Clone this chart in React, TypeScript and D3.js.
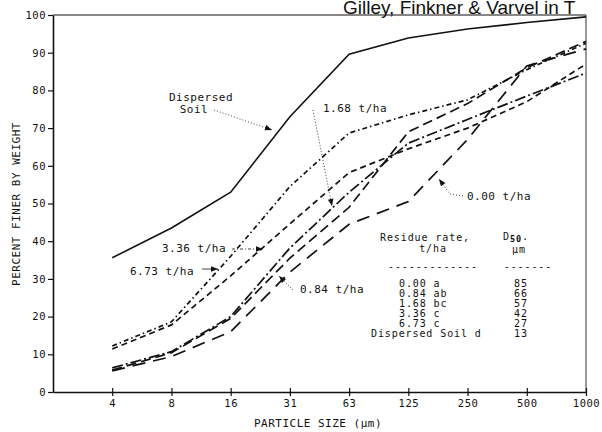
import React, { useEffect, useRef } from 'react';
import * as d3 from 'd3';

// particle size classes (µm), evenly spaced on the axis
const SIZES = ['4', '8', '16', '31', '63', '125', '250', '500', '1000'];
const Y_TICKS = [0, 10, 20, 30, 40, 50, 60, 70, 80, 90, 100];

// percent finer by weight
const DISPERSED = [35.6, 43.5, 53, 73, 89.6, 93.9, 96.3, 98, 99.5];
const RATE_000 = [5.6, 9.4, 16, 31.8, 44.5, 50.5, 67, 86.5, 91];
const RATE_084 = [5.8, 10.4, 19.5, 35.5, 49, 69, 76.5, 86, 93];
const RATE_168 = [6.4, 10.7, 20, 38.2, 53, 66, 72.3, 78.5, 84.6];
const RATE_336 = [11.4, 17.8, 30.8, 44.6, 58.2, 64.5, 70, 77, 87];
const RATE_673 = [12.2, 18.6, 36, 54.5, 68.7, 73.5, 77.5, 85.5, 92.5];

const TABLE_RATES = ['0.00 a', '0.84 ab', '1.68 bc', '3.36 c', '6.73 c'];
const TABLE_D50 = ['85', '66', '57', '42', '27', '13'];

const SERIES = [
    { values: DISPERSED, dash: null },
    { values: RATE_000, dash: '13,8' },
    { values: RATE_084, dash: '10,5' },
    { values: RATE_168, dash: '11,3,2,3' },
    { values: RATE_336, dash: '6,4' },
    { values: RATE_673, dash: '5,3,1.5,3' },
];

const MONO = '"DejaVu Sans Mono", "Liberation Mono", monospace';
const INK = '#111';

function addArrow(g, points, dash)
{
    g.append('path')
        .attr('d', d3.line()(points))
        .attr('fill', 'none')
        .attr('stroke', INK)
        .attr('stroke-width', 0.8)
        .attr('stroke-dasharray', dash)
        .attr('marker-end', 'url(#head)');
}

function addText(g, x, y, text, size = 11, anchor = 'start')
{
    return g.append('text')
        .attr('x', x)
        .attr('y', y)
        .attr('font-family', MONO)
        .attr('font-size', size)
        .attr('letter-spacing', size > 10 ? 0.5 : 0.9)
        .attr('text-anchor', anchor)
        .attr('fill', INK)
        .text(text);
}

export default function App()
{
    const svgRef = useRef(null);

    useEffect(() =>
    {
        const svg = d3.select(svgRef.current);
        svg.selectAll('*').remove();

        const left = 53, right = 586, top = 15, bottom = 392;
        const x = d3.scaleLinear().domain([-1, SIZES.length - 1]).range([left, right]);
        const y = d3.scaleLinear().domain([0, 100]).range([bottom, top]);

        svg.append('defs').append('marker')
            .attr('id', 'head')
            .attr('viewBox', '0 0 10 10')
            .attr('refX', 10).attr('refY', 5)
            .attr('markerWidth', 9).attr('markerHeight', 7)
            .attr('markerUnits', 'userSpaceOnUse')
            .attr('orient', 'auto')
            .append('path').attr('d', 'M0,1L10,5L0,9Z').attr('fill', INK);

        // frame
        svg.append('line').attr('x1', left).attr('x2', right).attr('y1', top).attr('y2', top)
            .attr('stroke', INK).attr('stroke-width', 1.2);
        svg.append('line').attr('x1', right).attr('x2', right).attr('y1', top).attr('y2', bottom)
            .attr('stroke', '#333').attr('stroke-width', 1);

        const yAxis = svg.append('g')
            .attr('transform', `translate(${ left },0)`)
            .call(d3.axisLeft(y).tickValues(Y_TICKS).tickSize(5).tickSizeOuter(0).tickPadding(2));
        const xAxis = svg.append('g')
            .attr('transform', `translate(0,${ bottom })`)
            .call(d3.axisBottom(x).tickValues(d3.range(SIZES.length)).tickFormat((i) => SIZES[i])
                .tickSize(4).tickSizeOuter(0).tickPadding(4));
        xAxis.selectAll('.tick line').attr('y1', -4);

        [yAxis, xAxis].forEach((a) =>
        {
            a.select('.domain').attr('stroke', INK).attr('stroke-width', 1.6);
            a.selectAll('.tick line').attr('stroke', INK).attr('stroke-width', 1.2);
            a.selectAll('text')
                .attr('font-family', MONO)
                .attr('font-size', 10.5)
                .attr('letter-spacing', 0.5)
                .attr('fill', INK);
        });

        // curves
        const line = d3.line().x((d, i) => x(i)).y((d) => y(d));
        SERIES.forEach((s) =>
        {
            svg.append('path')
                .attr('d', line(s.values))
                .attr('fill', 'none')
                .attr('stroke', INK)
                .attr('stroke-width', s.dash ? 1.7 : 1.6)
                .attr('stroke-dasharray', s.dash);
        });

        const notes = svg.append('g');

        // axis titles
        addText(notes, 0, 0, 'PERCENT FINER BY WEIGHT', 11, 'middle')
            .attr('transform', 'translate(20,204) rotate(-90)')
            .attr('x', null).attr('y', null);
        addText(notes, 318, 427, 'PARTICLE SIZE (µm)', 11, 'middle');

        // curve labels
        addText(notes, 201, 101, 'Dispersed', 11, 'middle');
        addText(notes, 194, 113, 'Soil', 11, 'middle');
        addArrow(notes, [[214, 110], [272, 130]], '1,2');

        addText(notes, 323, 112, '1.68 t/ha');
        addArrow(notes, [[313, 110], [332, 206]], '1,2');

        addText(notes, 162, 252, '3.36 t/ha');
        addArrow(notes, [[232, 249], [263, 249]], '3,2,1,2');

        addText(notes, 130, 275, '6.73 t/ha');
        addArrow(notes, [[202, 269], [218, 269]], null);

        addText(notes, 300, 293, '0.84 t/ha');
        addArrow(notes, [[293, 290], [279, 276]], '1,2');

        addText(notes, 467, 200, '0.00 t/ha');
        addArrow(notes, [[463, 196], [450, 194], [439, 179]], '1,2');

        // D50 table
        addText(notes, 425, 241, 'Residue rate,', 10, 'middle');
        addText(notes, 433, 252, 't/ha', 10, 'middle');
        const d50 = addText(notes, 503, 240, 'D', 10);
        d50.append('tspan').attr('dy', 1.5).attr('font-size', 8.5).attr('font-weight', 'bold').text('50');
        d50.append('tspan').attr('dy', -1.5).text('.');
        addText(notes, 519, 253, 'µm', 10, 'middle');
        addText(notes, 433, 270, '-------------', 10, 'middle');
        addText(notes, 528, 270, '-------', 10, 'middle');
        TABLE_RATES.forEach((r, i) => addText(notes, 399, 287 + i * 10, r, 10));
        addText(notes, 371, 287 + TABLE_RATES.length * 10, 'Dispersed Soil  d', 10);
        TABLE_D50.forEach((v, i) => addText(notes, 521, 287 + i * 10, v, 10, 'middle'));

        // source caption, clipped by the page edge
        svg.append('text')
            .attr('x', 343).attr('y', 14)
            .attr('font-family', '"Liberation Sans", Arial, sans-serif')
            .attr('font-size', 19)
            .attr('fill', INK)
            .text('Gilley, Finkner & Varvel in T');
    }, []);

    return (
        <svg
            ref={ svgRef }
            width={ 602 }
            height={ 432 }
            style={ { position: 'absolute', left: 0, top: 0, background: '#fff' } }
        />
    );
}
